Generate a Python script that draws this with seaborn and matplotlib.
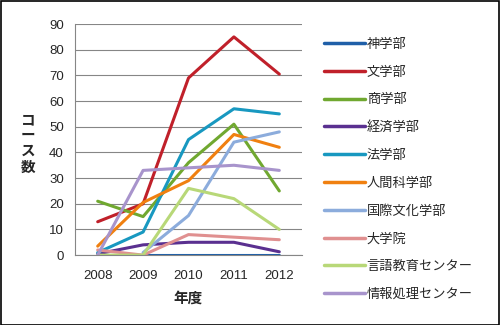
import matplotlib
matplotlib.use("Agg")
import matplotlib.pyplot as plt
import seaborn as sns
import pandas as pd

years = ["2008", "2009", "2010", "2011", "2012"]
departments = ["神学部", "文学部", "商学部", "経済学部", "法学部", "人間科学部",
               "国際文化学部", "大学院", "言語教育センター", "情報処理センター"]
v_shin = [0, 0, 0, 0, 0]
v_bun = [13, 20, 69, 85, 70.5]
v_sho = [21, 15, 36, 51, 25]
v_keizai = [0.5, 4, 5, 5, 1.3]
v_ho = [1, 9, 45, 57, 55]
v_ningen = [3.5, 20.5, 29, 47, 42]
v_kokusai = [None, 1, 15.4, 44, 48]
v_daigakuin = [2, 0, 8, 7, 6]
v_gengo = [0, 0, 26, 22, 10]
v_joho = [0, 33, 34, 35, 33]
series = [v_shin, v_bun, v_sho, v_keizai, v_ho, v_ningen, v_kokusai,
          v_daigakuin, v_gengo, v_joho]
colors = ["#1F5FA8", "#C0202A", "#70A830", "#5A3090", "#1898C0", "#F08010",
          "#8CACDC", "#E09090", "#B8D878", "#A894CC"]

rows = []
for d, vals in zip(departments, series):
    for i, (y, v) in enumerate(zip(years, vals)):
        if v is not None:
            rows.append({"year": i, "dept": d, "count": v})
df = pd.DataFrame(rows)

sns.set_style("white")
plt.rcParams["font.family"] = ["Noto Sans CJK JP", "DejaVu Sans"]

fig = plt.figure(figsize=(5, 3.25), dpi=100)
ax = fig.add_axes([0.15, 0.215, 0.454, 0.711])

sns.lineplot(data=df, x="year", y="count", hue="dept", hue_order=departments,
             palette=colors, linewidth=2.2, ax=ax, legend=True, sort=False)

ax.set_xlim(-0.5, 4.5)
ax.set_ylim(0, 90)
ax.set_yticks(range(0, 91, 10))
ax.set_xticks(range(5))
ax.set_xticklabels(years)
ax.set_xticks([i + 0.5 for i in range(-1, 5)], minor=True)
ax.tick_params(axis="x", which="major", length=0, pad=11, labelsize=9.5)
ax.tick_params(axis="x", which="minor", length=4, color="#808080", width=0.8, direction="out")
ax.tick_params(axis="y", length=4, color="#808080", width=0.8, direction="out", labelsize=9.5, pad=4)
for lab in ax.get_xticklabels() + ax.get_yticklabels():
    lab.set_fontfamily(["Liberation Sans", "DejaVu Sans"])
ax.yaxis.grid(True, color="#868686", linewidth=0.8)
ax.xaxis.grid(False)
for s in ["top", "right"]:
    ax.spines[s].set_visible(False)
for s in ["left", "bottom"]:
    ax.spines[s].set_color("#868686")
    ax.spines[s].set_linewidth(0.8)
ax.set_axisbelow(True)

ax.set_xlabel("年度", fontsize=10.5, fontweight="bold", labelpad=5)
ax.set_ylabel("")
fig.text(0.056, 0.56, "コ\nー\nス\n数", ha="center", va="center",
         fontsize=10.5, fontweight="bold", linespacing=1.0)

handles, labels = ax.get_legend_handles_labels()
ax.legend_.remove()
leg = fig.legend(handles, labels, loc="upper left", bbox_to_anchor=(0.637, 0.9),
                 frameon=False, fontsize=9.5, handlelength=3.1, handletextpad=0.15,
                 labelspacing=1.12, borderaxespad=0)
for h in leg.get_lines():
    h.set_linewidth(2.5)

border = plt.Rectangle((0.001, 0.001), 0.997, 0.996, transform=fig.transFigure,
                       fill=False, edgecolor="black", linewidth=1.2)
fig.patches.append(border)

fig.savefig("out.png", dpi=100)
